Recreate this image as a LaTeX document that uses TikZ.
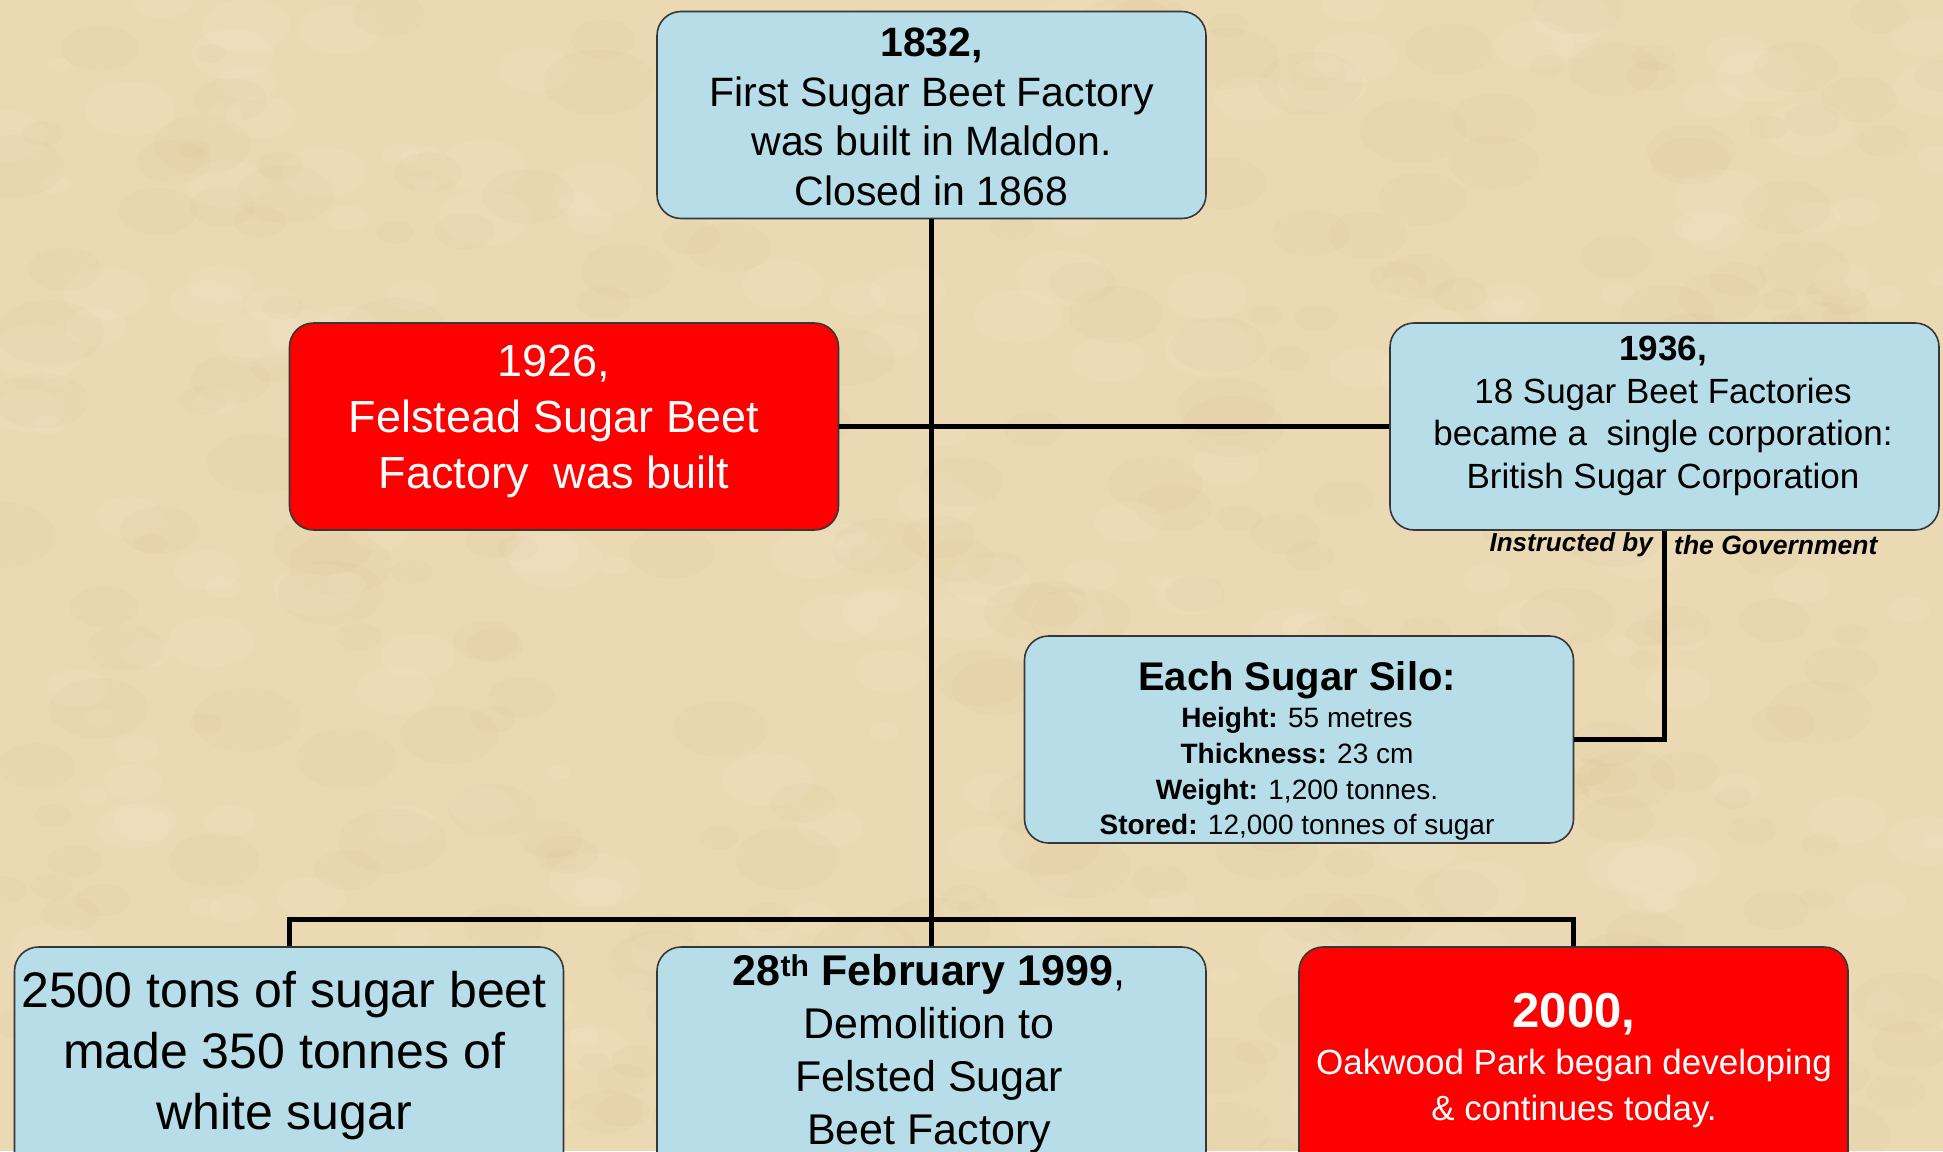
\documentclass[tikz,border=0pt]{standalone}
\usepackage{fontspec}
\setmainfont{Liberation Sans}
\definecolor{bg}{RGB}{235,217,180}
\definecolor{bgdark}{RGB}{214,188,140}
\definecolor{bglight}{RGB}{246,234,208}
\definecolor{boxblue}{RGB}{183,221,232}
\definecolor{boxred}{RGB}{255,0,0}
\definecolor{boxline}{RGB}{55,55,55}
\newcommand{\fs}[2]{\fontsize{#1}{#2}\selectfont}
\begin{document}
\begin{tikzpicture}[x=1pt,y=-1pt,
  box/.style={draw=boxline, line width=1.6pt, rounded corners=24pt,
    minimum width=549pt, minimum height=207pt, inner sep=0pt},
  bluebox/.style={box, fill=boxblue},
  redbox/.style={box, fill=boxred},
  txt/.style={align=center, inner sep=0pt},
  conn/.style={line width=5pt, black}]
\useasboundingbox (0,0) rectangle (1943,1151);
\clip (0,0) rectangle (1943,1151);
\fill[bg] (0,0) rectangle (1943,1151);
\pgfmathsetseed{17}
\foreach \i in {1,...,300}{
  \pgfmathsetmacro{\px}{rnd*1943}
  \pgfmathsetmacro{\py}{rnd*1151}
  \pgfmathsetmacro{\rr}{15+rnd*40}
  \fill[bgdark, opacity=0.10] (\px,\py) ellipse ({\rr pt} and {0.6*\rr pt});
}
\foreach \i in {1,...,250}{
  \pgfmathsetmacro{\px}{rnd*1943}
  \pgfmathsetmacro{\py}{rnd*1151}
  \pgfmathsetmacro{\rr}{12+rnd*35}
  \fill[bglight, opacity=0.14] (\px,\py) ellipse ({\rr pt} and {0.6*\rr pt});
}

% boxes
\node[bluebox] (top) at (931.5,115) {};
\node[redbox] (r1926) at (564,426.5) {};
\node[bluebox] (b1936) at (1664.5,426.5) {};
\node[bluebox] (silo) at (1299,739.5) {};
\node[bluebox, minimum height=240pt] (bl) at (289,1067) {};
\node[bluebox, minimum height=240pt] (bm) at (931.5,1067) {};
\node[redbox, minimum height=240pt] (br) at (1573.5,1067) {};

% connectors
\coordinate (busL) at (289,919);
\coordinate (busR) at (1573.5,919);
\draw[conn] (top.south) -- (bm.north);
\draw[conn] (r1926.east) -- (b1936.west);
\draw[conn, line cap=rect] (busL) -- (busR);
\draw[conn] (busL) -- (bl.north);
\draw[conn] (busR) -- (br.north);
\draw[conn] (b1936.south) |- (silo.east);

% texts
\node[txt, font=\fs{41}{49.5}] (ttop) at (931.5,117)
  {\textbf{1832,}\\First Sugar Beet Factory\\was built in Maldon.\\Closed in 1868};
\node[txt, text=white, font=\fs{45}{56}] (t1926) at (554,421)
  {1926,\\Felstead Sugar Beet\\Factory\ \ was built};
\node[txt, font=\fs{35}{42.5}] (t1936) at (1663,416)
  {\textbf{1936,}\\18 Sugar Beet Factories\\became a\ \ single corporation:\\British Sugar Corporation};
\node[txt, font=\fs{40}{44}\bfseries] (tsilo1) at (1297,680) {Each Sugar Silo:};
\node[txt, font=\fs{28}{35.6}] (tsilo2) at (1297,774)
  {\textbf{Height:} 55 metres\\\textbf{Thickness:} 23 cm\\\textbf{Weight:} 1,200 tonnes.\\\textbf{Stored:} 12,000 tonnes of sugar};
\node[txt, font=\fs{50}{61}] (tbl) at (284,1056)
  {2500 tons of sugar beet\\made 350 tonnes of\\white sugar};
\node[txt, font=\fs{43}{53}] (tbm) at (929,1054)
  {\textbf{28\textsuperscript{th} February 1999},\\Demolition to\\Felsted Sugar\\Beet Factory};
\node[txt, text=white, font=\fs{49}{55}\bfseries] (tbr1) at (1574,1014) {2000,};
\node[txt, text=white, font=\fs{35}{46}] (tbr2) at (1574,1088)
  {Oakwood Park began developing\\\& continues today.};
\node[txt, anchor=east, font=\fs{26}{30}\bfseries\itshape] (ins1) at (1653,545) {Instructed by};
\node[txt, anchor=west, font=\fs{26.5}{30}\bfseries\itshape] (ins2) at (1674,545) {the Government};
\end{tikzpicture}
\end{document}
